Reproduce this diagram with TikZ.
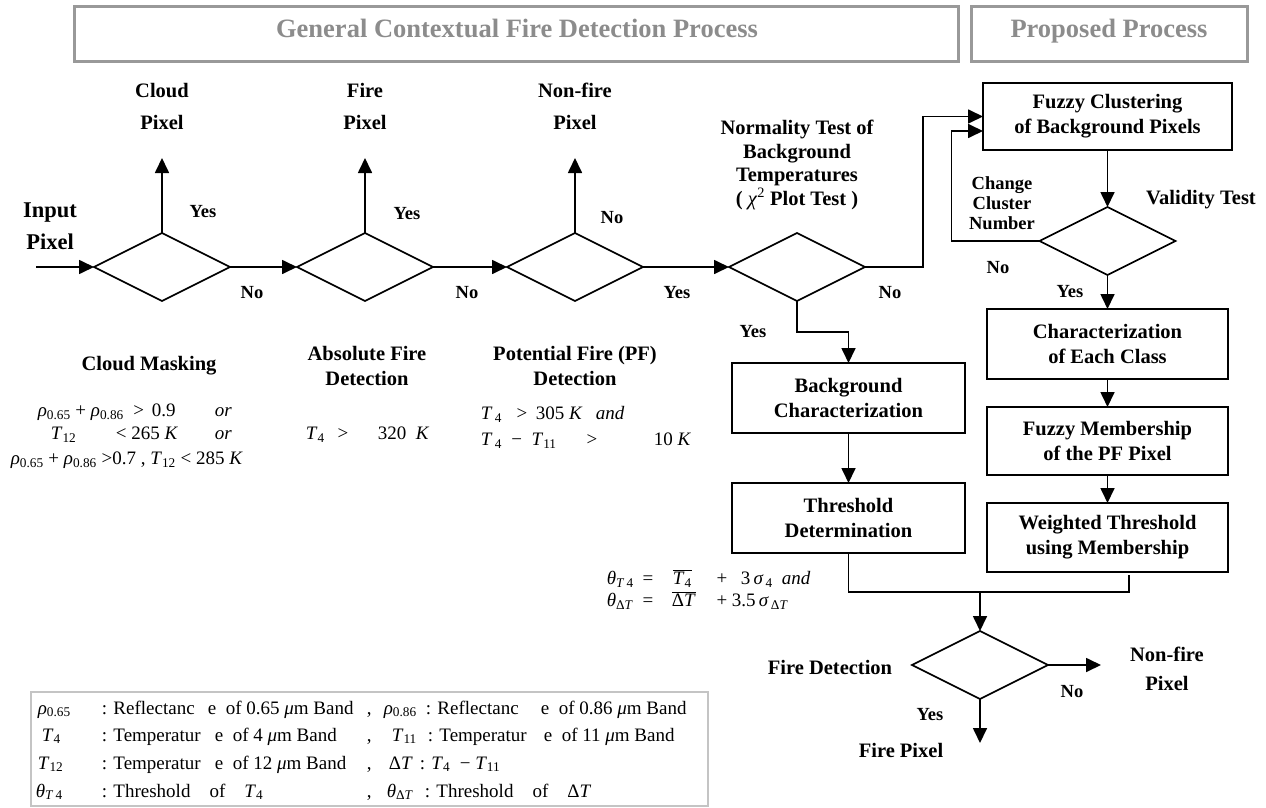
\documentclass[tikz,border=0pt]{standalone}
\usepackage{fontspec}
\setmainfont{Liberation Serif}
\usetikzlibrary{arrows.meta,shapes.geometric,calc}
\newcommand\sbs[1]{\textsubscript{#1}}
\newcommand\ovl[1]{$\overline{\hbox{#1}}$}
\definecolor{hdrgray}{HTML}{8C8C8C}
\definecolor{hdrline}{HTML}{999999}
\definecolor{leggray}{HTML}{C4C4C4}
\begin{document}
\begin{tikzpicture}[x=1pt,y=-1pt,line width=1.7pt,
  arr/.style={-{Triangle[length=15pt,width=14pt]}},
  dia/.style={draw,diamond,minimum width=136pt,minimum height=68pt,inner sep=0pt,outer sep=0pt,line width=1.7pt},
  pbox/.style={draw,rectangle,inner sep=0pt,outer sep=0pt,line width=1.9pt,align=center,font=\fontsize{20.5}{25}\selectfont\bfseries},
  lbl/.style={font=\fontsize{20.5}{25}\selectfont\bfseries,align=center,inner sep=0pt},
  lblw/.style={font=\fontsize{20.5}{32}\selectfont\bfseries,align=center,inner sep=0pt},
  yn/.style={font=\fontsize{18.5}{20}\selectfont\bfseries,inner sep=0pt},
  fm/.style={font=\fontsize{19}{22}\selectfont,inner sep=0pt,anchor=base west},
  fmc/.style={font=\fontsize{19}{22}\selectfont,inner sep=0pt,anchor=base},
  lg/.style={font=\fontsize{19}{22}\selectfont,inner sep=0pt,anchor=base west},
  hdr/.style={draw=hdrline,line width=3pt,inner sep=0pt},
  hdrtxt/.style={font=\fontsize{26.5}{30}\selectfont\bfseries,text=hdrgray,inner sep=0pt,anchor=base}
]
\useasboundingbox (0,0) rectangle (1266,808);

% header boxes
\draw[hdr] (74,7) rectangle (958,62);
\draw[hdr] (971,7) rectangle (1247,62);
\node[hdrtxt] (h1) at (517,38) {General Contextual Fire Detection Process};
\node[hdrtxt] (h2) at (1109,38) {Proposed Process};

% diamonds
\node[dia] (d1) at (162,267) {};
\node[dia] (d2) at (365,267) {};
\node[dia] (d3) at (575,267) {};
\node[dia] (d4) at (797,267) {};
\node[dia] (dv) at (1107.5,241) {};
\node[dia] (df) at (980,665) {};

% boxes
\node[pbox,minimum width=249pt,minimum height=67pt] (fz) at (1107.5,116.5) {Fuzzy Clustering\\of Background Pixels};
\node[pbox,minimum width=241pt,minimum height=70pt] (ch) at (1107.5,344) {Characterization\\of Each Class};
\node[pbox,minimum width=241pt,minimum height=68pt] (mb) at (1107.5,441) {Fuzzy Membership\\of the PF Pixel};
\node[pbox,minimum width=241pt,minimum height=69pt] (wt) at (1107.5,537.5) {Weighted Threshold\\using Membership};
\node[pbox,minimum width=233pt,minimum height=70pt] (bg) at (848.5,398) {Background\\Characterization};
\node[pbox,minimum width=233pt,minimum height=70pt] (th) at (848.5,518) {Threshold\\Determination};

% free ends
\coordinate (inp) at (36,267);
\coordinate (u1) at (162,158);
\coordinate (u2) at (365,158);
\coordinate (u3) at (575,158);
\coordinate (jn) at (980,592);
\coordinate (nfe) at (1101,665);
\coordinate (fpe) at (980,743);

% connectors
\draw[arr] (inp) -- (d1.west);
\draw[arr] (d1.north) -- (u1);
\draw[arr] (d2.north) -- (u2);
\draw[arr] (d3.north) -- (u3);
\draw[arr] (d1.east) -- (d2.west);
\draw[arr] (d2.east) -- (d3.west);
\draw[arr] (d3.east) -- (d4.west);
\draw[arr] (d4.east) -- ++(58,0) |- (fz.west);
\draw[arr] (dv.west) -- ++(-88,0) |- ($(fz.west)+(0,14.5)$);
\draw[arr] (d4.south) -- ++(0,31) -| (bg.north);
\draw[arr] (bg.south) -- (th.north);
\draw[arr] (fz.south) -- (dv.north);
\draw[arr] (dv.south) -- (ch.north);
\draw[arr] (ch.south) -- (mb.north);
\draw[arr] (mb.south) -- (wt.north);
\draw (th.south) |- (jn);
\draw ($(wt.south)+(21.5,3)$) |- (jn);
\draw[arr] (jn) -- (df.north);
\draw[arr] (df.east) -- (nfe);
\draw[arr] (df.south) -- (fpe);

% top labels
\node[lblw] (lc) at (162,106) {Cloud\\Pixel};
\node[lblw] (lf) at (365,106) {Fire\\Pixel};
\node[lblw] (ln) at (575,106) {Non-fire\\Pixel};
\node[font=\fontsize{22.5}{32}\selectfont\bfseries,align=center,inner sep=0pt] (lin) at (50,226) {Input\\Pixel};
\node[font=\fontsize{20.5}{23.5}\selectfont\bfseries,align=center,inner sep=0pt] (lnorm) at (797,165) {Normality Test of\\Background\\Temperatures\\( \textit{\mdseries χ}\textsuperscript{\mdseries 2} Plot Test )};
\node[lbl] (lval) at (1201,200) {Validity Test};
\node[font=\fontsize{18.5}{20}\selectfont\bfseries,align=center,inner sep=0pt] (lchg) at (1002,203) {Change\\Cluster\\Number};

% yes / no
\node[yn] (y1) at (203,212) {Yes};
\node[yn] (y2) at (407,214) {Yes};
\node[yn] (n3) at (612,218) {No};
\node[yn] (n1) at (252,293) {No};
\node[yn] (n2) at (467,293) {No};
\node[yn] (y3) at (677,293) {Yes};
\node[yn] (n4) at (890,293) {No};
\node[yn] (y4) at (753,332) {Yes};
\node[yn] (nv) at (998,268) {No};
\node[yn] (yv) at (1070,292) {Yes};
\node[yn] (nf) at (1072,692) {No};
\node[yn] (yf) at (930,715) {Yes};

% bottom-right labels
\node[lbl] (lfd) at (830,667) {Fire Detection};
\node[lblw,font=\fontsize{20.5}{29}\selectfont\bfseries] (lnf) at (1167,668.5) {Non-fire\\Pixel};
\node[lbl] (lfp) at (901,750) {Fire Pixel};

% stage titles
\node[lbl] (lcm) at (149,366) {Cloud Masking};
\node[lbl] (laf) at (367,365.5) {Absolute Fire\\Detection};
\node[lbl] (lpf) at (575,365.5) {Potential Fire (PF)\\Detection};

% cloud masking formulas
\node[fm] (c1a) at (37,416.5) {\textit{ρ}\sbs{0.65} + \textit{ρ}\sbs{0.86} \ > \,0.9};
\node[fm] (c1b) at (214,416.5) {\textit{or}};
\node[fm] (c2a) at (50,439.5) {\textit{T}\sbs{12}};
\node[fm] (c2b) at (115,439.5) {< 265 \textit{K}};
\node[fm] (c2c) at (214,439.5) {\textit{or}};
\node[fm] (c3a) at (10,464.5) {\textit{ρ}\sbs{0.65} + \textit{ρ}\sbs{0.86} >0.7 , \textit{T}\sbs{12} < 285 \textit{K}};

% absolute fire formula
\node[fm] (a1) at (305,439.5) {\textit{T}\sbs{4}};
\node[fmc] (a2) at (343,439.5) {>};
\node[fm] (a3) at (377,439.5) {320\ \ \textit{K}};

% potential fire formulas
\node[fm] (p1a) at (480,419.5) {\textit{T}\sbs{\,4}};
\node[fmc] (p1b) at (522,419.5) {>};
\node[fm] (p1c) at (535,419.5) {305\ \textit{K}};
\node[fm] (p1d) at (595,419.5) {\textit{and}};
\node[fm] (p2a) at (480,445.5) {\textit{T}\sbs{\,4}\ \ − \ \textit{T}\sbs{11}};
\node[fmc] (p2b) at (592,445.5) {>};
\node[fm] (p2c) at (653,445.5) {10\ \textit{K}};

% threshold formulas
\node[fm] (t1a) at (606,584.5) {\textit{θ}\sbs{\textit{T}\,4}};
\node[fmc] (t1b) at (648,584.5) {=};
\node[fm] (t1c) at (672,584.5) {\ovl{\textit{T}\sbs{4}}};
\node[fmc] (t1d) at (722,584.5) {+};
\node[fm] (t1e) at (740,584.5) {3\,\textit{σ}\sbs{\,4}};
\node[fm] (t1f) at (781,584.5) {\textit{and}};
\node[fm] (t2a) at (606,606.5) {\textit{θ}\sbs{Δ\textit{T}}};
\node[fmc] (t2b) at (648,606.5) {=};
\node[fm] (t2c) at (671,606.5) {\ovl{Δ\textit{T}}};
\node[fmc] (t2d) at (722,606.5) {+};
\node[fm] (t2e) at (731,606.5) {3.5\,\textit{σ}\sbs{\,Δ\textit{T}}};

% legend
\draw[draw=leggray,line width=2.5pt] (31,692) rectangle (708,806);
\node[lg] (l1a) at (37,714) {\textit{ρ}\sbs{0.65}};
\node[lg] (l1b) at (101,714) {: Reflectanc};
\node[lg] (l1c) at (207,714) {e\ \ of 0.65 \textit{μ}m Band};
\node[lg] (l1d) at (366,714) {,};
\node[lg] (l1e) at (383,714) {\textit{ρ}\sbs{0.86}};
\node[lg] (l1f) at (425,714) {: Reflectanc};
\node[lg] (l1g) at (540,714) {e\ \ of 0.86 \textit{μ}m Band};
\node[lg] (l2a) at (41,741) {\textit{T}\sbs{4}};
\node[lg] (l2b) at (101,741) {: Temperatur};
\node[lg] (l2c) at (214,741) {e\ \ of 4 \textit{μ}m Band};
\node[lg] (l2d) at (366,741) {,};
\node[lg] (l2e) at (391,741) {\textit{T}\sbs{11}};
\node[lg] (l2f) at (427,741) {: Temperatur};
\node[lg] (l2g) at (543,741) {e\ \ of 11 \textit{μ}m Band};
\node[lg] (l3a) at (37,769) {\textit{T}\sbs{12}};
\node[lg] (l3b) at (101,769) {: Temperatur};
\node[lg] (l3c) at (214,769) {e\ \ of 12 \textit{μ}m Band};
\node[lg] (l3d) at (366,769) {,};
\node[lg] (l3e) at (388,769) {Δ\textit{T}};
\node[lg] (l3f) at (419,769) {: \textit{T}\sbs{4} \ − \textit{T}\sbs{11}};
\node[lg] (l4a) at (35,797) {\textit{θ}\sbs{\textit{T}\,4}};
\node[lg] (l4b) at (101,797) {: Threshold\quad of\quad \textit{T}\sbs{4}};
\node[lg] (l4c) at (366,797) {,};
\node[lg] (l4d) at (386,797) {\textit{θ}\sbs{Δ\textit{T}}};
\node[lg] (l4e) at (424,797) {: Threshold\quad of\quad Δ\textit{T}};
\end{tikzpicture}
\end{document}
